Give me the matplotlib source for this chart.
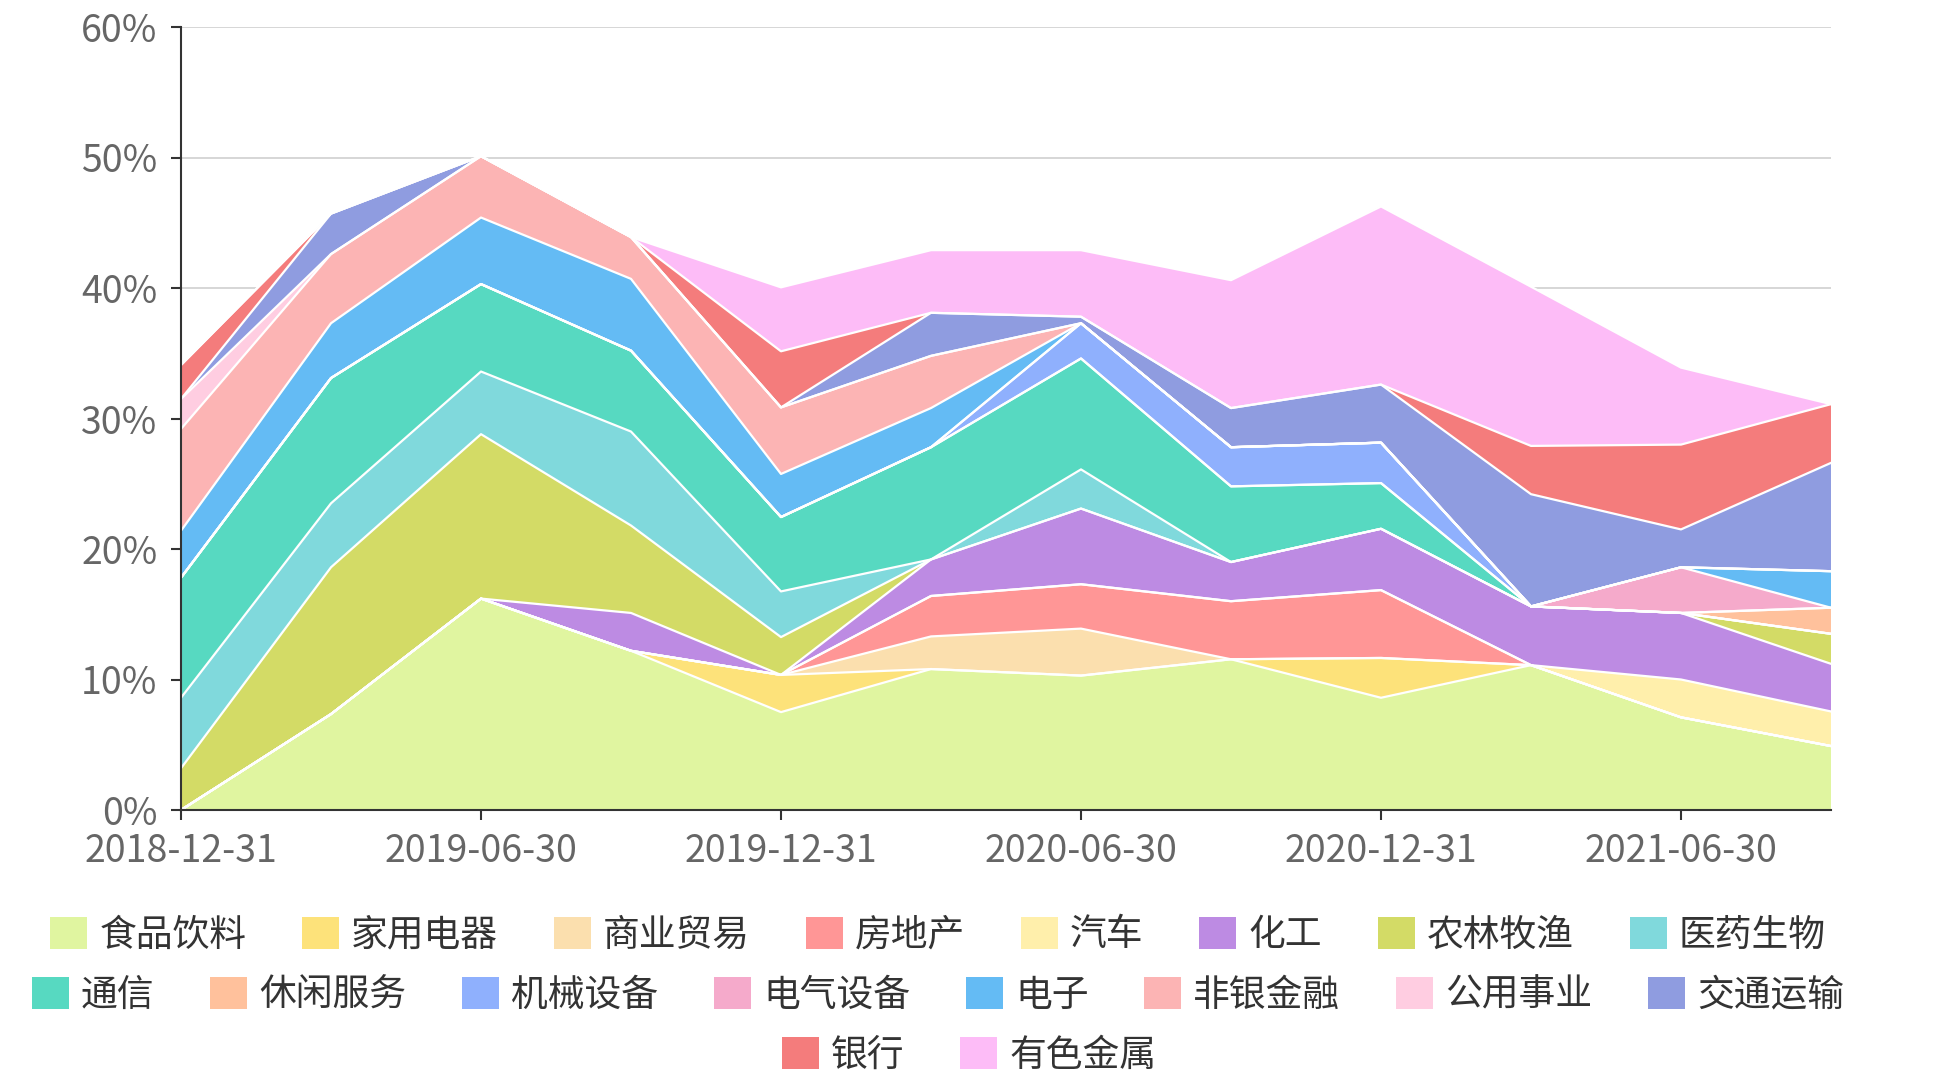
import numpy as np
import matplotlib
matplotlib.use('Agg')
import matplotlib.pyplot as plt
from matplotlib.patches import Patch

plt.rcParams['font.family'] = ['Noto Sans CJK SC', 'DejaVu Sans']

# 报告期
dates = ['2018-12-31', '2019-03-31', '2019-06-30', '2019-09-30', '2019-12-31', '2020-03-31',
         '2020-06-30', '2020-09-30', '2020-12-31', '2021-03-31', '2021-06-30', '2021-09-30']

# 各行业占比 (%)
food = [0, 7.35, 16.2, 12.2, 7.5, 10.8, 10.3, 11.55, 8.6, 11.1, 7.1, 4.9]
appliance = [0, 0, 0, 0, 2.85, 0, 0, 0, 3.05, 0, 0, 0]
commerce = [0, 0, 0, 0, 0, 2.5, 3.6, 0, 0, 0, 0, 0]
realestate = [0, 0, 0, 0, 0, 3.1, 3.4, 4.45, 5.2, 0, 0, 0]
auto = [0, 0, 0, 0, 0, 0, 0, 0, 0, 0, 2.9, 2.65]
chemical = [0, 0, 0, 2.9, 0, 2.8, 5.8, 3.0, 4.7, 4.5, 5.1, 3.65]
agri = [3.2, 11.25, 12.6, 6.7, 2.9, 0, 0, 0, 0, 0, 0, 2.3]
pharma = [5.4, 4.9, 4.8, 7.2, 3.5, 0, 3.0, 0, 0, 0, 0, 0]
telecom = [9.2, 9.6, 6.7, 6.2, 5.7, 8.6, 8.5, 5.8, 3.5, 0, 0, 0]
leisure = [0, 0, 0, 0, 0, 0, 0, 0, 0, 0, 0, 2.0]
machinery = [0, 0, 0, 0, 0, 0, 2.7, 3.0, 3.1, 0, 0, 0]
electrical = [0, 0, 0, 0, 0, 0, 0, 0, 0, 0, 3.5, 0]
electronics = [3.6, 4.2, 5.1, 5.5, 3.3, 3.0, 0, 0, 0, 0, 0, 2.8]
nonbank = [7.8, 5.3, 4.7, 3.2, 5.1, 4.0, 0, 0, 0, 0, 0, 0]
utility = [2.3, 0, 0, 0, 0, 0, 0, 0, 0, 0, 0, 0]
transport = [0, 3.1, 0, 0, 0, 3.3, 0.5, 3.0, 4.45, 8.6, 2.9, 8.3]
bank = [2.6, 0, 0, 0, 4.3, 0, 0, 0, 0, 3.7, 6.5, 4.5]
metal = [0, 0, 0, 0, 4.9, 4.8, 5.1, 9.8, 13.65, 12.2, 5.9, 0]

names = ['食品饮料', '家用电器', '商业贸易', '房地产', '汽车', '化工', '农林牧渔', '医药生物',
         '通信', '休闲服务', '机械设备', '电气设备', '电子', '非银金融', '公用事业', '交通运输',
         '银行', '有色金属']
series = [food, appliance, commerce, realestate, auto, chemical, agri, pharma,
          telecom, leisure, machinery, electrical, electronics, nonbank, utility, transport,
          bank, metal]
colors = ['#e0f5a0', '#fde27a', '#fbdfae', '#ff9696', '#ffefab', '#bd8be3', '#d3db66', '#80d9dc',
          '#57d9c1', '#ffc19c', '#8fb0fd', '#f5aacb', '#64bbf4', '#fcb4b4', '#ffcde1', '#8f9ce0',
          '#f47c7c', '#fdbcf7']

fig = plt.figure(figsize=(19.38, 10.8), dpi=100)
ax = fig.add_axes([181 / 1938, 1 - 810 / 1080, (1831 - 181) / 1938, (810 - 27) / 1080])

x = np.arange(len(dates))
base = np.zeros(len(dates))
for vals, c in zip(series, colors):
    top = base + np.array(vals)
    ax.fill_between(x, base, top, facecolor=c, edgecolor='none', zorder=2)
    ax.plot(x, top, color='white', lw=1.6, zorder=3)
    base = top

ax.set_xlim(0, len(dates) - 1)
ax.set_ylim(0, 60)
ax.set_yticks(np.arange(0, 61, 10))
ax.set_yticklabels(['%d%%' % v for v in range(0, 61, 10)])
ax.set_xticks(x[::2])
ax.set_xticklabels(dates[::2])

ax.grid(axis='y', color='#d0d0d0', lw=1.2, zorder=0)
for s in ['top', 'right']:
    ax.spines[s].set_visible(False)
for s in ['left', 'bottom']:
    ax.spines[s].set_color('#333333')
    ax.spines[s].set_linewidth(1.5)
    ax.spines[s].set_zorder(5)
ax.tick_params(axis='both', colors='#333333', length=7, width=1.5, labelsize=27, labelcolor='#666666')
ax.tick_params(axis='y', pad=10)
ax.tick_params(axis='x', pad=9)

# 图例分三行居中
handles = [Patch(facecolor=c, edgecolor='none') for c in colors]
rows = [(0, 8, 0.484, 935), (8, 16, 0.484, 995), (16, 18, 0.5, 1055)]
for a, b, xc, yc in rows:
    fig.legend(handles[a:b], names[a:b], loc='center', bbox_to_anchor=(xc, 1 - yc / 1080),
               ncol=b - a, frameon=False, fontsize=26.5, handlelength=1.0, handleheight=0.95,
               handletextpad=0.33, columnspacing=1.52, labelcolor='#333333',
               borderpad=0, borderaxespad=0)

fig.savefig('out.png', dpi=100)
